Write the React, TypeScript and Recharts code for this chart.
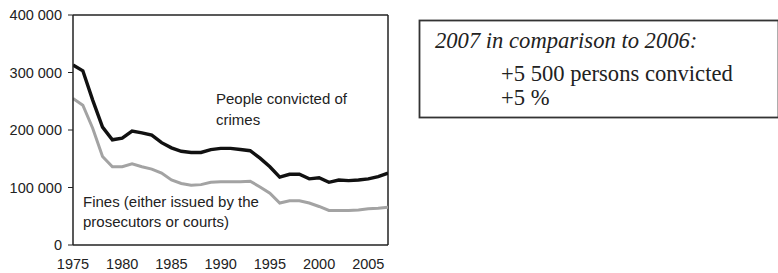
import React from 'react';
import { LineChart, Line, XAxis, YAxis, ReferenceLine } from 'recharts';

const years = [
  1975, 1976, 1977, 1978, 1979, 1980, 1981, 1982, 1983, 1984, 1985,
  1986, 1987, 1988, 1989, 1990, 1991, 1992, 1993, 1994, 1995, 1996,
  1997, 1998, 1999, 2000, 2001, 2002, 2003, 2004, 2005, 2006, 2007,
];

const convicted = [
  313000, 303000, 252000, 205000, 183000, 186000, 198000, 195000, 191000, 178000, 169000,
  163000, 161000, 161000, 166000, 168000, 168000, 166000, 164000, 151000, 136000, 118000,
  123000, 123000, 115000, 117000, 109000, 113000, 112000, 113000, 115000, 119000, 125000,
];

const fines = [
  255000, 243000, 203000, 154000, 136000, 136000, 141000, 136000, 132000, 125000, 113000,
  107000, 104000, 105000, 109000, 110000, 110000, 110000, 111000, 101000, 90000, 73000,
  77000, 77000, 73000, 67000, 60000, 60000, 60000, 61000, 63000, 64000, 65500,
];

const yTicks = [0, 100000, 200000, 300000, 400000];
const xTicks = [1975, 1980, 1985, 1990, 1995, 2000, 2005];

const convictedLabel = ['People convicted of', 'crimes'];
const finesLabel = ['Fines (either issued by the', 'prosecutors or courts)'];
const boxTitle = '2007 in comparison to 2006:';
const boxLines = ['+5 500 persons convicted', '+5 %'];

const data = years.map((year, i) => ({ year, convicted: convicted[i], fines: fines[i] }));

const fmtY = (v: number) => (v === 0 ? '0' : `${v / 1000} 000`);

const SANS = '"Liberation Sans", Arial, sans-serif';
const SERIF = '"Liberation Serif", "Times New Roman", serif';

export default function App() {
  return (
    <div style={{ position: 'absolute', left: 0, top: 0, width: 778, height: 273, background: '#fff' }}>
      <LineChart
        width={778}
        height={273}
        data={data}
        margin={{ top: 15, right: 390, bottom: 0, left: 0 }}
      >
        <XAxis
          dataKey="year"
          type="number"
          domain={[1975, 2007]}
          ticks={xTicks}
          height={28}
          tickLine={false}
          tickSize={0}
          tickMargin={14}
          axisLine={{ stroke: '#222', strokeWidth: 1.5 }}
          tick={{ fontSize: 14.5, fill: '#222', fontFamily: SANS }}
          allowDataOverflow
        />
        <YAxis
          type="number"
          domain={[0, 400000]}
          ticks={yTicks}
          width={73}
          tickSize={5}
          tickMargin={6}
          tickFormatter={fmtY}
          axisLine={{ stroke: '#222', strokeWidth: 1.5 }}
          tickLine={{ stroke: '#222' }}
          tick={{ fontSize: 14.5, fill: '#222', fontFamily: SANS }}
        />
        <ReferenceLine y={400000} stroke="#222" strokeWidth={1.5} />
        <ReferenceLine x={2007} stroke="#222" strokeWidth={1.5} />
        <Line
          dataKey="fines"
          stroke="#a3a3a3"
          strokeWidth={3}
          dot={false}
          isAnimationActive={false}
        />
        <Line
          dataKey="convicted"
          stroke="#111"
          strokeWidth={3.4}
          dot={false}
          isAnimationActive={false}
        />
      </LineChart>
      <svg
        width={778}
        height={273}
        style={{ position: 'absolute', left: 0, top: 0, pointerEvents: 'none' }}
      >
        <g fontFamily={SANS} fontSize={15} fill="#222">
          <text x={216} y={104}>{convictedLabel[0]}</text>
          <text x={216} y={125}>{convictedLabel[1]}</text>
          <text x={83} y={207}>{finesLabel[0]}</text>
          <text x={83} y={227}>{finesLabel[1]}</text>
        </g>
        <rect x={419.5} y={20.5} width={359} height={97} fill="none" stroke="#333" strokeWidth={1.8} />
        <g fontFamily={SERIF} fontSize={22.6} fill="#222">
          <text x={435} y={48} fontStyle="italic">{boxTitle}</text>
          <text x={501} y={81}>{boxLines[0]}</text>
          <text x={501} y={105}>{boxLines[1]}</text>
        </g>
      </svg>
    </div>
  );
}
